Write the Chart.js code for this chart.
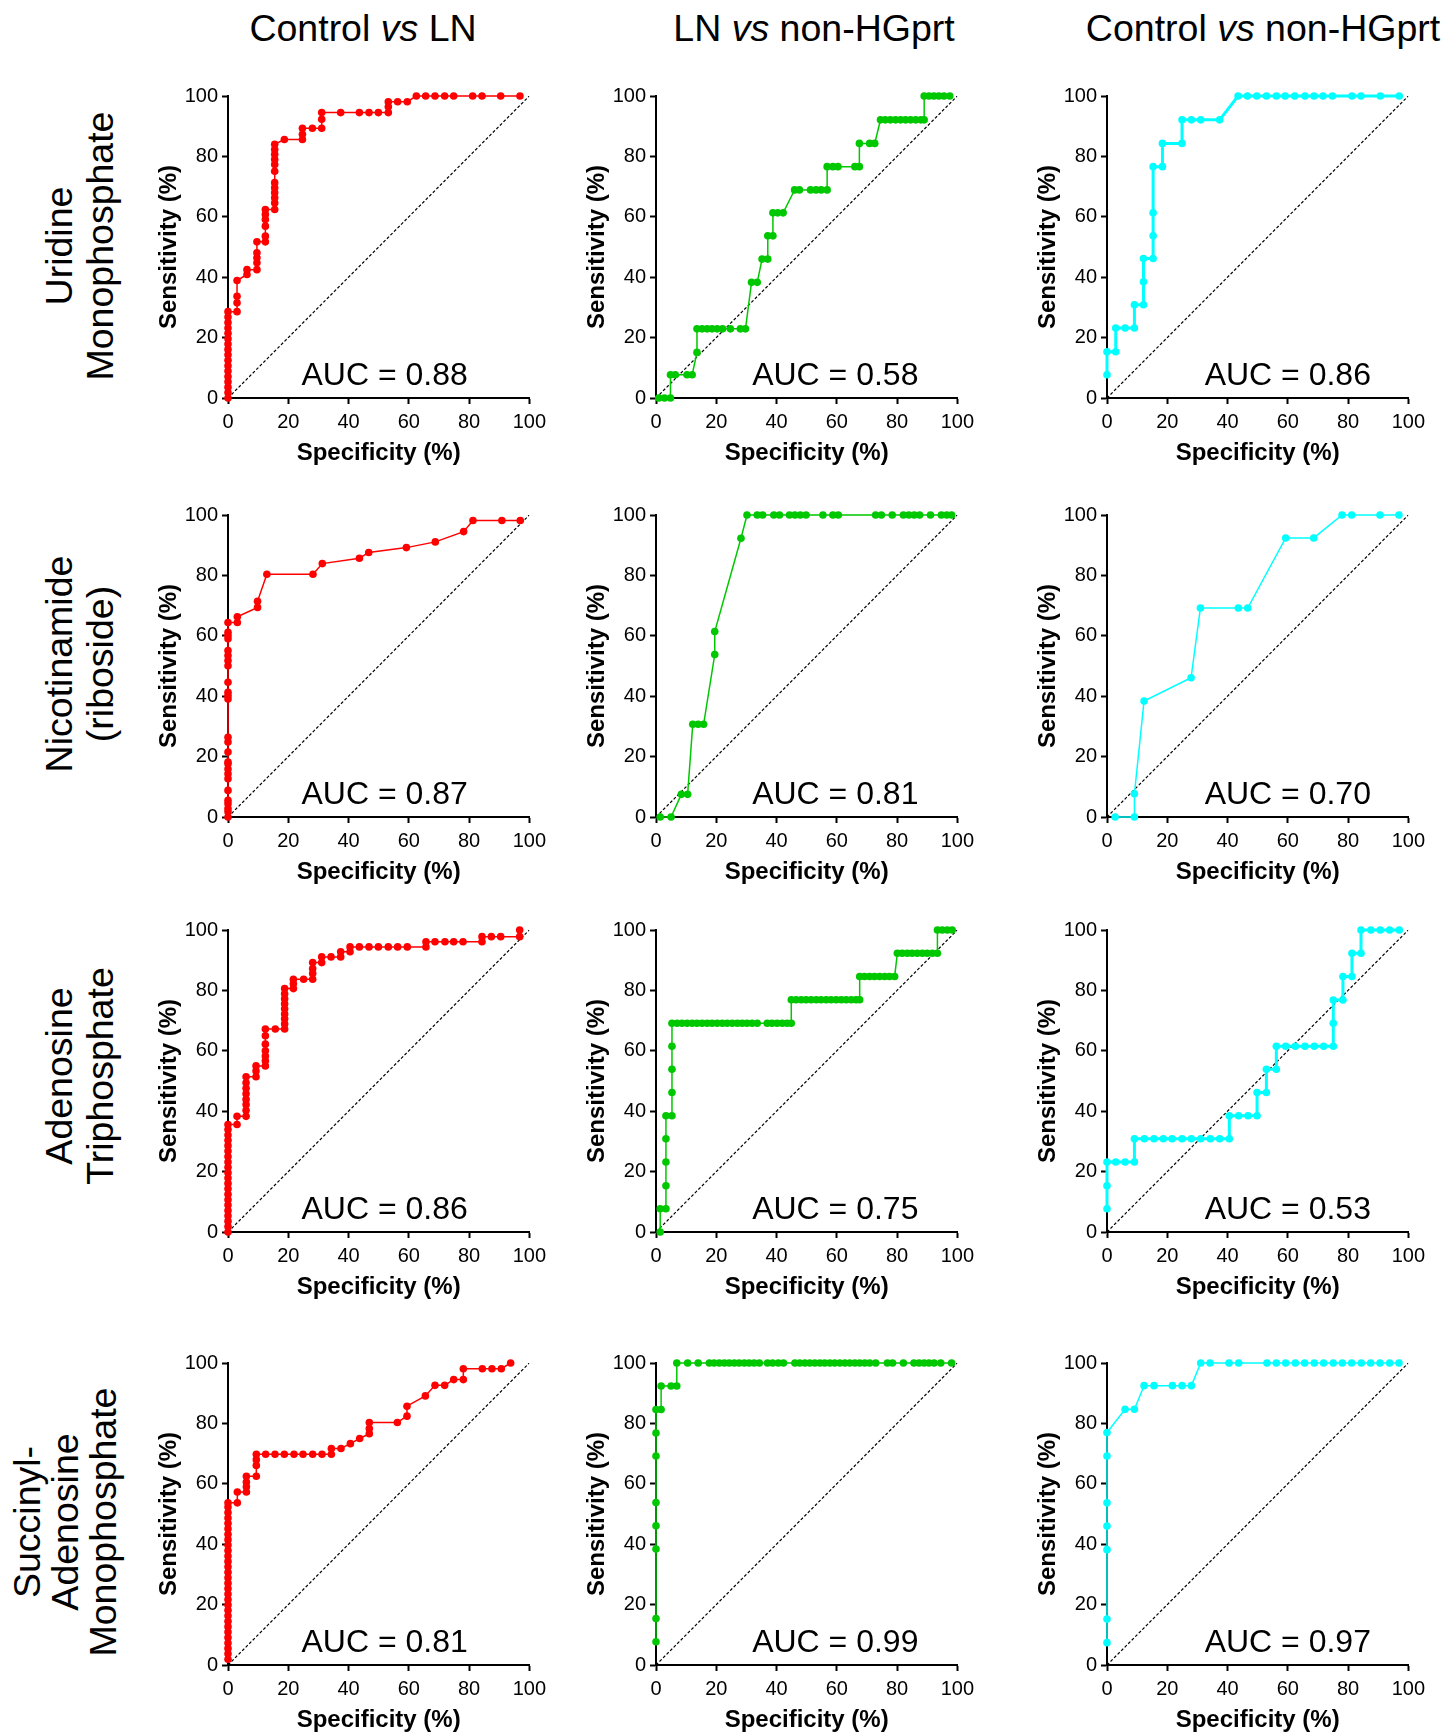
<!DOCTYPE html>
<html>
<head>
<meta charset="utf-8">
<script src="https://cdn.jsdelivr.net/npm/chart.js@4.4.1/dist/chart.umd.min.js"></script>
<style>
  body { margin: 0; background: #fff; width: 1443px; height: 1734px; position: relative; overflow: hidden;
         font-family: "Liberation Sans", Arial, sans-serif; color: #000; }
  .colTitle { position: absolute; top: 28px; transform: translate(-50%, -50%); font-size: 37.5px; white-space: nowrap; }
  .rowTitle { position: absolute; transform: translate(-50%, -50%) rotate(-90deg); font-size: 37.5px;
              line-height: 41px; text-align: center; white-space: nowrap; }
  canvas { position: absolute; }
</style>
</head>
<body>
<div class="colTitle" style="left:363px">Control <i>vs</i> LN</div>
<div class="colTitle" style="left:814px">LN <i>vs</i> non-HGprt</div>
<div class="colTitle" style="left:1263px">Control <i>vs</i> non-HGprt</div>

<div class="rowTitle" style="left:80px;top:246px">Uridine<br>Monophosphate</div>
<div class="rowTitle" style="left:80px;top:664px">Nicotinamide<br>(riboside)</div>
<div class="rowTitle" style="left:80px;top:1076px">Adenosine<br>Triphosphate</div>
<div class="rowTitle" style="left:65px;top:1522px;line-height:38px">Succinyl-<br>Adenosine<br>Monophosphate</div>

<script>
// ROC points, [100 - specificity, sensitivity] in %
const umpCtrlLn = [[0,0],[0,1.8],[0,3.6],[0,5.4],[0,7.1],[0,8.9],[0,10.7],[0,12.5],[0,14.3],[0,16.1],[0,17.9],[0,19.6],[0,21.4],[0,23.2],[0,25.0],[0,26.8],[0,28.6],
  [3.0,28.6],[3.0,31.5],[3.0,33.7],[3.0,38.9],[6.3,40.9],[6.3,42.5],[9.6,42.5],[9.6,44.8],[9.6,46.4],[9.6,48.1],[9.6,51.7],
  [12.4,51.7],[12.4,53.6],[12.4,56.9],[12.4,59.1],[12.4,60.8],[12.4,62.4],
  [15.5,62.4],[15.5,64.6],[15.5,66.3],[15.5,68.0],[15.5,69.6],[15.5,71.3],[15.5,75.1],[15.5,77.3],[15.5,79.0],[15.5,80.7],[15.5,82.3],[15.5,84.0],
  [18.7,85.6],[24.7,85.6],[24.7,87.3],[24.7,89.3],[28.0,89.3],[31.1,89.3],[31.1,92.3],[31.1,94.5],
  [37.4,94.5],[43.6,94.5],[46.8,94.5],[49.9,94.5],[53.2,94.5],[53.2,96.4],[53.2,98.1],[56.3,98.1],[59.5,98.1],
  [62.5,100],[65.6,100],[68.7,100],[71.9,100],[74.9,100],[81.2,100],[84.3,100],[90.5,100],[96.9,100]];

const umpLnHg = [[0.9,0],[2.8,0],[4.8,0],[4.8,7.7],[6.4,7.7],[10.3,7.7],[12.0,7.7],[13.6,15.1],[13.6,22.9],[15.3,22.9],[17.0,22.9],[18.6,22.9],
  [20.3,22.9],[22.1,22.9],[24.7,22.9],[28.0,22.9],[29.7,22.9],[31.7,38.3],[33.6,38.3],[35.2,46.0],[37.1,46.0],[37.1,53.7],[38.8,53.7],
  [38.8,61.3],[40.4,61.3],[42.2,61.3],[46.0,68.9],[47.6,68.9],[51.3,68.9],[53.1,68.9],[54.8,68.9],[56.8,68.9],[56.8,76.6],[58.7,76.6],
  [60.4,76.6],[66.0,76.6],[67.5,76.6],[67.5,84.3],[70.9,84.3],[72.6,84.3],[74.5,92.1],[76.1,92.1],[77.8,92.1],[79.5,92.1],[81.2,92.1],
  [82.8,92.1],[84.5,92.1],[86.2,92.1],[87.9,92.1],[89.0,92.1],[89.0,100],[90.6,100],[92.2,100],[93.9,100],[95.6,100],[97.5,100]];

const umpCtrlHg = [[0,7.7],[0,15.3],[2.9,15.3],[2.9,23.2],[6.0,23.2],[9.1,23.2],[9.1,30.9],[12.1,30.9],[12.1,38.5],[12.1,46.2],[15.3,46.2],
  [15.3,53.7],[15.3,61.3],[15.3,76.6],[18.4,76.6],[18.4,84.3],[24.9,84.3],[24.9,92.1],[28.0,92.1],[31.1,92.1],[37.4,92.1],[43.5,100],
  [46.6,100],[49.7,100],[52.9,100],[56.2,100],[59.1,100],[62.3,100],[65.7,100],[68.7,100],[71.7,100],[74.8,100],[81.3,100],[84.3,100],
  [90.7,100],[97.0,100]];

const nrCtrlLn = [[0,0],[0,1.7],[0,2.8],[0,4.4],[0,5.5],[0,8.8],[0,12.7],[0,14.3],[0,15.9],[0,17.6],[0,18.2],[0,21.5],[0,24.8],[0,26.4],
  [0,39.1],[0,40.2],[0,41.3],[0,44.6],[0,50.1],[0,51.8],[0,53.5],[0,55.1],[0,59.0],[0,60.1],[0,61.2],[0,64.4],[3.1,64.4],[3.1,66.3],
  [9.8,69.4],[9.8,71.4],[12.9,80.4],[28.2,80.4],[31.3,83.9],[43.6,85.7],[46.7,87.6],[59.2,89.2],[68.8,91.1],[78.2,94.5],[81.3,98.2],
  [90.9,98.2],[97.0,98.2]];

const nrLnHg = [[1.4,0],[5.0,0],[8.4,7.5],[10.5,7.5],[12.2,30.7],[14.0,30.7],[15.8,30.7],[19.5,53.8],[19.5,61.4],[28.2,92.3],[30.2,100],
  [33.6,100],[35.4,100],[39.1,100],[41.0,100],[44.3,100],[46.1,100],[47.9,100],[49.8,100],[55.4,100],[58.7,100],[60.5,100],[72.9,100],
  [74.8,100],[78.4,100],[82.1,100],[83.9,100],[85.7,100],[87.5,100],[91.1,100],[94.7,100],[96.5,100],[98.1,100]];

const nrCtrlHg = [[2.7,0],[9.1,0],[9.1,7.7],[12.3,38.4],[27.9,46.1],[31.0,69.2],[43.6,69.2],[46.7,69.2],[59.3,92.4],[68.6,92.4],
  [78.0,100],[81.2,100],[90.6,100],[96.9,100]];

const atpCtrlLn = [[0,0],[0,1.8],[0,3.6],[0,5.4],[0,7.1],[0,8.9],[0,10.7],[0,12.5],[0,14.3],[0,16.1],[0,17.9],[0,19.6],[0,21.4],[0,23.2],
  [0,25.0],[0,26.8],[0,28.6],[0,30.4],[0,32.1],[0,33.9],[0,35.6],[3.0,35.6],[3.0,38.3],[6.0,38.3],[6.0,40.3],[6.0,42.2],[6.0,43.9],
  [6.0,45.8],[6.0,47.6],[6.0,49.4],[6.0,51.4],[9.3,51.4],[9.3,53.3],[9.3,55.0],[12.4,55.0],[12.4,56.7],[12.4,58.3],[12.4,60.0],[12.4,62.2],
  [12.4,65.0],[12.4,67.2],[15.7,67.2],[18.8,67.2],[18.8,68.9],[18.8,70.6],[18.8,72.2],[18.8,73.9],[18.8,75.6],[18.8,77.2],[18.8,78.9],
  [18.8,80.6],[21.7,80.6],[21.7,82.2],[21.7,83.7],[25.1,83.7],[28.1,83.7],[28.1,85.6],[28.1,87.2],[28.1,89.2],[31.1,89.2],[31.1,91.1],
  [34.2,91.1],[37.4,91.1],[37.4,92.8],[40.5,92.8],[40.5,94.4],[43.6,94.4],[46.8,94.4],[49.9,94.4],[53.2,94.4],[56.3,94.4],[59.5,94.4],
  [65.7,94.4],[65.7,96.1],[68.7,96.1],[72.0,96.1],[74.9,96.1],[78.0,96.1],[84.3,96.1],[84.3,97.8],[87.4,97.8],[90.5,97.8],[96.8,97.8],
  [96.8,100]];

const atpLnHg = [[1.4,0],[1.4,7.7],[3.3,7.7],[3.3,15.3],[3.3,23.2],[3.3,30.9],[3.3,38.5],[5.3,38.5],[5.3,46.2],[5.3,53.9],[5.3,61.5],
  [5.3,69.1],[7.0,69.1],[8.6,69.1],[10.3,69.1],[12.0,69.1],[13.6,69.1],[15.3,69.1],[17.0,69.1],[18.6,69.1],[20.3,69.1],[22.0,69.1],
  [23.6,69.1],[25.3,69.1],[27.0,69.1],[28.6,69.1],[30.2,69.1],[31.9,69.1],[33.6,69.1],[36.9,69.1],[38.5,69.1],[40.2,69.1],[41.9,69.1],
  [43.5,69.1],[44.9,69.1],[44.9,76.9],[46.5,76.9],[48.2,76.9],[49.8,76.9],[51.5,76.9],[53.2,76.9],[54.8,76.9],[56.5,76.9],[58.1,76.9],
  [59.8,76.9],[61.5,76.9],[63.1,76.9],[64.8,76.9],[66.4,76.9],[67.6,76.9],[67.6,84.6],[69.2,84.6],[70.9,84.6],[72.5,84.6],[74.2,84.6],
  [75.9,84.6],[77.5,84.6],[79.2,84.6],[80.1,92.3],[81.7,92.3],[83.4,92.3],[85.0,92.3],[86.7,92.3],[88.4,92.3],[90.0,92.3],[91.7,92.3],
  [93.4,92.3],[93.4,100],[95.0,100],[96.7,100],[98.3,100]];

const atpCtrlHg = [[0,7.7],[0,15.3],[0,23.2],[2.9,23.2],[6.0,23.2],[9.1,23.2],[9.1,30.9],[12.4,30.9],[15.6,30.9],[18.7,30.9],[21.6,30.9],
  [24.9,30.9],[28.0,30.9],[31.1,30.9],[34.3,30.9],[37.4,30.9],[40.6,30.9],[40.6,38.5],[43.7,38.5],[46.8,38.5],[49.8,38.5],[49.8,46.2],
  [52.9,46.2],[52.9,53.9],[56.2,53.9],[56.2,61.5],[59.3,61.5],[62.5,61.5],[65.7,61.5],[68.8,61.5],[71.9,61.5],[75.1,61.5],[75.1,69.1],
  [75.1,76.8],[78.3,76.8],[78.3,84.6],[81.3,84.6],[81.3,92.3],[84.3,92.3],[84.3,100],[87.6,100],[90.7,100],[93.8,100],[97.0,100]];

const sampCtrlLn = [[0,1.9],[0,3.7],[0,5.5],[0,7.3],[0,9.1],[0,10.9],[0,12.7],[0,14.5],[0,16.3],[0,18.1],[0,19.9],[0,21.7],[0,23.5],
  [0,25.3],[0,27.1],[0,28.9],[0,30.7],[0,32.5],[0,34.3],[0,36.1],[0,37.9],[0,39.7],[0,41.5],[0,43.3],[0,45.1],[0,46.9],[0,48.7],
  [0,50.5],[0,52.3],[0,53.7],[3.1,53.7],[3.1,57.3],[6.1,57.3],[6.1,59.0],[6.1,60.6],[6.1,62.5],[9.4,62.5],[9.4,66.1],[9.4,68.0],
  [9.4,69.8],[12.5,69.8],[15.6,69.8],[18.7,69.8],[21.9,69.8],[24.9,69.8],[28.1,69.8],[31.2,69.8],[34.3,69.8],[34.3,71.7],[37.5,71.7],
  [40.6,73.3],[43.7,75.0],[46.9,76.6],[46.9,78.3],[46.9,80.3],[56.2,80.3],[59.4,82.4],[59.4,85.7],[65.5,89.1],[68.7,92.6],[71.9,92.6],
  [74.9,94.5],[78.1,94.5],[78.1,98.1],[84.4,98.1],[87.6,98.1],[90.7,98.1],[93.8,100]];

const sampLnHg = [[0,7.7],[0,15.4],[0,38.4],[0,46.1],[0,53.8],[0,69.2],[0,76.8],[0,84.6],[1.7,84.6],[1.7,92.4],[5.0,92.4],[6.9,92.4],
  [6.9,100],[10.5,100],[14.0,100],[17.7,100],[19.3,100],[21.0,100],[22.7,100],[24.3,100],[26.0,100],[27.6,100],[29.3,100],[30.9,100],
  [32.6,100],[34.3,100],[37.0,100],[38.7,100],[40.6,100],[42.3,100],[46.1,100],[47.7,100],[49.4,100],[51.0,100],[52.7,100],[54.4,100],
  [56.0,100],[57.7,100],[59.3,100],[61.0,100],[62.7,100],[64.3,100],[66.0,100],[67.6,100],[69.3,100],[70.9,100],[72.9,100],[76.8,100],
  [78.5,100],[82.1,100],[85.6,100],[87.3,100],[89.0,100],[90.6,100],[92.3,100],[94.5,100],[98.1,100]];

const sampCtrlHg = [[0,7.4],[0,15.2],[0,38.2],[0,46.0],[0,53.7],[0,69.2],[0,77.0],[6.0,84.7],[9.1,84.7],[12.3,92.5],[15.6,92.5],
  [21.7,92.5],[24.9,92.5],[28.0,92.5],[31.1,100],[34.2,100],[40.5,100],[43.7,100],[53.1,100],[56.2,100],[59.3,100],[62.5,100],
  [65.6,100],[68.8,100],[71.9,100],[75.1,100],[78.1,100],[81.2,100],[84.4,100],[87.5,100],[90.6,100],[93.8,100],[96.9,100]];

const aucLabels = ['0.88', '0.58', '0.86', '0.87', '0.81', '0.70', '0.86', '0.75', '0.53', '0.81', '0.99', '0.97'];
const tickValues = [0, 20, 40, 60, 80, 100];

const series = [umpCtrlLn, umpLnHg, umpCtrlHg, nrCtrlLn, nrLnHg, nrCtrlHg,
                atpCtrlLn, atpLnHg, atpCtrlHg, sampCtrlLn, sampLnHg, sampCtrlHg];
const colColors = ['#ff0000', '#00c800', '#00ffff'];

// layout (px) - where each plot area should sit on the page
const colLeft = [228, 656, 1107];
const rowTop = [96, 515, 930, 1363];
const aucFrac = [0.52, 0.595, 0.60];
const PLOT = 302, YW = 80, XH = 70, PAD_T = 18, PAD_R = 22;
const FONT = '"Liberation Sans", Arial, sans-serif';

const aucPlugin = {
  id: 'aucText',
  afterDatasetsDraw(chart, args, opts) {
    const { ctx, chartArea } = chart;
    ctx.save();
    ctx.font = '32px ' + FONT;
    ctx.fillStyle = '#000';
    ctx.textAlign = 'center';
    ctx.textBaseline = 'middle';
    ctx.fillText('AUC = ' + opts.value, chartArea.left + opts.frac * chartArea.width, chartArea.bottom - 22);
    ctx.restore();
  }
};

function axis(titleText, isX) {
  return {
    type: 'linear', min: 0, max: 100,
    afterFit: s => { if (isX) s.height = XH; else s.width = YW; },
    afterBuildTicks: s => { s.ticks = tickValues.map(v => ({ value: v })); },
    border: { display: true, color: '#000', width: 2 },
    grid: { drawOnChartArea: false, drawTicks: true, tickLength: 6, tickWidth: 2, tickColor: '#000' },
    ticks: { color: '#000', padding: isX ? 6 : 4, maxRotation: 0, font: { size: 20, family: FONT } },
    title: { display: true, text: titleText, color: '#000', padding: isX ? { top: 0, bottom: 0 } : { top: 7, bottom: 0 },
             font: { size: 24, weight: 'bold', family: FONT } }
  };
}

series.forEach((pts, i) => {
  const col = i % 3, row = Math.floor(i / 3);
  const cv = document.createElement('canvas');
  const w = YW + PLOT + PAD_R, h = PAD_T + PLOT + XH;
  cv.width = w; cv.height = h;
  cv.style.width = w + 'px'; cv.style.height = h + 'px';
  document.body.appendChild(cv);

  const color = colColors[col];
  const thick = (i === 2 || i === 8);
  const chart = new Chart(cv, {
    type: 'scatter',
    data: {
      datasets: [
        {
          data: pts.map(p => ({ x: p[0], y: p[1] })),
          showLine: true, borderColor: color, backgroundColor: color,
          borderWidth: thick ? 3 : 1.5, pointRadius: 3.8, pointBorderWidth: 0,
          pointHoverRadius: 3.8, tension: 0, clip: false
        },
        {
          data: [{ x: 0, y: 0 }, { x: 100, y: 100 }],
          showLine: true, borderColor: '#000', borderWidth: 1.2, borderDash: [3, 2],
          pointRadius: 0, tension: 0
        }
      ]
    },
    options: {
      responsive: false, animation: false, devicePixelRatio: 1,
      layout: { padding: { top: PAD_T, right: PAD_R, left: 0, bottom: 0 } },
      plugins: { legend: { display: false }, tooltip: { enabled: false },
                 aucText: { value: aucLabels[i], frac: aucFrac[col] } },
      scales: {
        x: axis('Specificity (%)', true),
        y: axis('Sensitivity (%)', false)
      }
    },
    plugins: [aucPlugin]
  });

  // place the canvas so its plot area lands on the target spot
  cv.style.left = (colLeft[col] - chart.chartArea.left) + 'px';
  cv.style.top = (rowTop[row] - chart.chartArea.top) + 'px';
});
</script>
</body>
</html>
